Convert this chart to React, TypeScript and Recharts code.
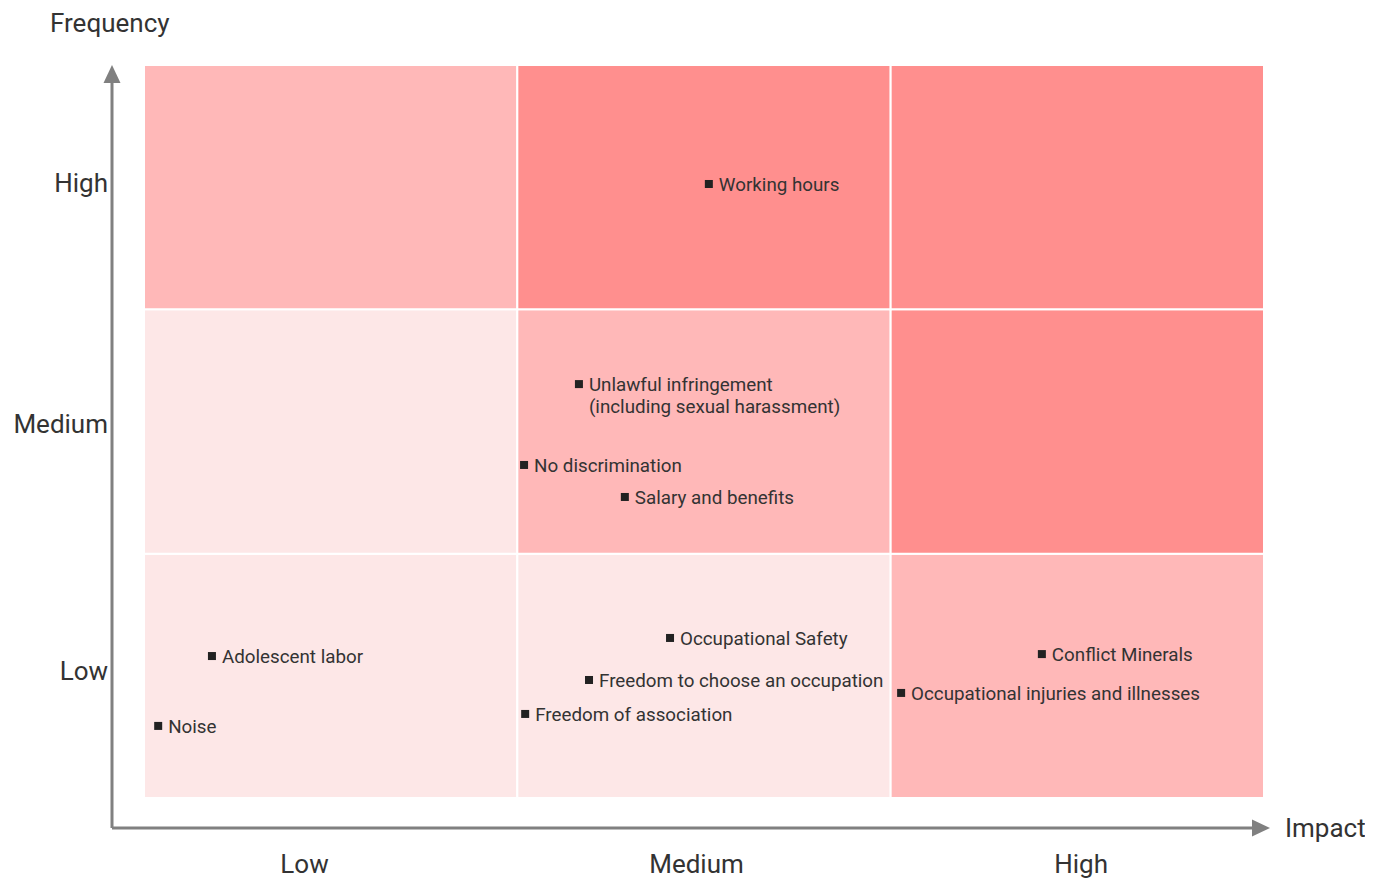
import React from 'react';
import { ScatterChart, Scatter, XAxis, YAxis, ReferenceArea, Customized } from 'recharts';

// ---- Data ----
const levelLabels = ['Low', 'Medium', 'High'];
const impactTicks = [0.43, 1.48, 2.51];
const frequencyTicks = [0.52, 1.53, 2.52];

// risk level per cell: rows = frequency (Low, Medium, High), cols = impact (Low, Medium, High)
const riskLow = [0, 0, 1];
const riskMedium = [0, 1, 2];
const riskHigh = [1, 2, 2];
const riskRows = [riskLow, riskMedium, riskHigh];
const riskColors = ['#FDE7E7', '#FFB8B8', '#FF8F8E'];

const issueNames = [
  'Working hours',
  'Unlawful infringement\n(including sexual harassment)',
  'No discrimination',
  'Salary and benefits',
  'Occupational Safety',
  'Freedom to choose an occupation',
  'Freedom of association',
  'Adolescent labor',
  'Noise',
  'Conflict Minerals',
  'Occupational injuries and illnesses',
];
const issueImpact = [1.513, 1.165, 1.018, 1.288, 1.409, 1.192, 1.021, 0.182, 0.038, 2.405, 2.028];
const issueFrequency = [2.513, 1.694, 1.363, 1.232, 0.655, 0.483, 0.344, 0.581, 0.295, 0.589, 0.43];

const issues = issueNames.map((name, i) => ({ name, impact: issueImpact[i], frequency: issueFrequency[i] }));

const cells: { x1: number; x2: number; y1: number; y2: number; level: number }[] = [];
riskRows.forEach((row, r) => {
  row.forEach((level, c) => {
    cells.push({ x1: c, x2: c + 1, y1: r, y2: r + 1, level });
  });
});

// ---- Layout ----
const W = 1357;
const H = 873;
const M = { top: 57, right: 101, left: 0, bottom: 0 };
const Y_AXIS_W = 136;
const X_AXIS_H = 83;
const plotLeft = M.left + Y_AXIS_W;
const plotRight = W - M.right;
const plotTop = M.top;
const plotBottom = H - M.bottom - X_AXIS_H;
const axisGap = 32;
const axisColor = '#808080';
const textColor = '#333333';
const axisFont = 26;
const labelFont = 18.8;

const IssueShape = (props: any) => {
  const { cx, cy, payload } = props;
  const lines: string[] = String(payload.name).split('\n');
  return (
    <g>
      <rect x={cx - 4} y={cy - 4} width={8} height={8} fill="#222" />
      <text x={cx + 10} y={cy} fill={textColor} fontSize={labelFont}>
        {lines.map((l, i) => (
          <tspan key={i} x={cx + 10} dy={i === 0 ? '0.35em' : 22}>
            {l}
          </tspan>
        ))}
      </text>
    </g>
  );
};

const Axes = () => {
  const ax = plotLeft - axisGap;
  const ay = plotBottom + 30;
  const head = 18;
  const hw = 8.5;
  const tipY = plotTop;
  const tipX = plotRight + 6;
  return (
    <g>
      <line x1={ax} y1={ay} x2={ax} y2={tipY + head} stroke={axisColor} strokeWidth={3} />
      <polygon points={`${ax},${tipY} ${ax - hw},${tipY + head} ${ax + hw},${tipY + head}`} fill={axisColor} />
      <line x1={ax} y1={ay} x2={tipX - head} y2={ay} stroke={axisColor} strokeWidth={3} />
      <polygon points={`${tipX},${ay} ${tipX - head},${ay - hw} ${tipX - head},${ay + hw}`} fill={axisColor} />
      <text x={42} y={24} fontSize={axisFont} fill={textColor}>Frequency</text>
      <text x={tipX + 15} y={ay + 9} fontSize={axisFont} fill={textColor}>Impact</text>
    </g>
  );
};

export default function App() {
  return (
    <div style={{ fontFamily: 'Roboto, sans-serif' }}>
      <ScatterChart width={W} height={H} margin={M} style={{ fontFamily: 'Roboto, sans-serif' }}>
        <XAxis
          type="number"
          dataKey="impact"
          domain={[0, 3]}
          ticks={impactTicks}
          tickFormatter={(v: number) => levelLabels[impactTicks.indexOf(v)]}
          axisLine={false}
          tickLine={false}
          tickMargin={51}
          height={X_AXIS_H}
          tick={{ fill: textColor, fontSize: axisFont }}
          interval={0}
        />
        <YAxis
          type="number"
          dataKey="frequency"
          domain={[0, 3]}
          ticks={frequencyTicks}
          tickFormatter={(v: number) => levelLabels[frequencyTicks.indexOf(v)]}
          axisLine={false}
          tickLine={false}
          tickMargin={30}
          width={Y_AXIS_W}
          tick={{ fill: textColor, fontSize: axisFont }}
          interval={0}
        />
        {cells.map((c, i) => (
          <ReferenceArea
            key={i}
            x1={c.x1}
            x2={c.x2}
            y1={c.y1}
            y2={c.y2}
            fill={riskColors[c.level]}
            fillOpacity={1}
            stroke="#ffffff"
            strokeWidth={2}
            ifOverflow="visible"
          />
        ))}
        <Scatter data={issues} shape={IssueShape} isAnimationActive={false} />
        <Customized component={Axes} />
      </ScatterChart>
    </div>
  );
}
